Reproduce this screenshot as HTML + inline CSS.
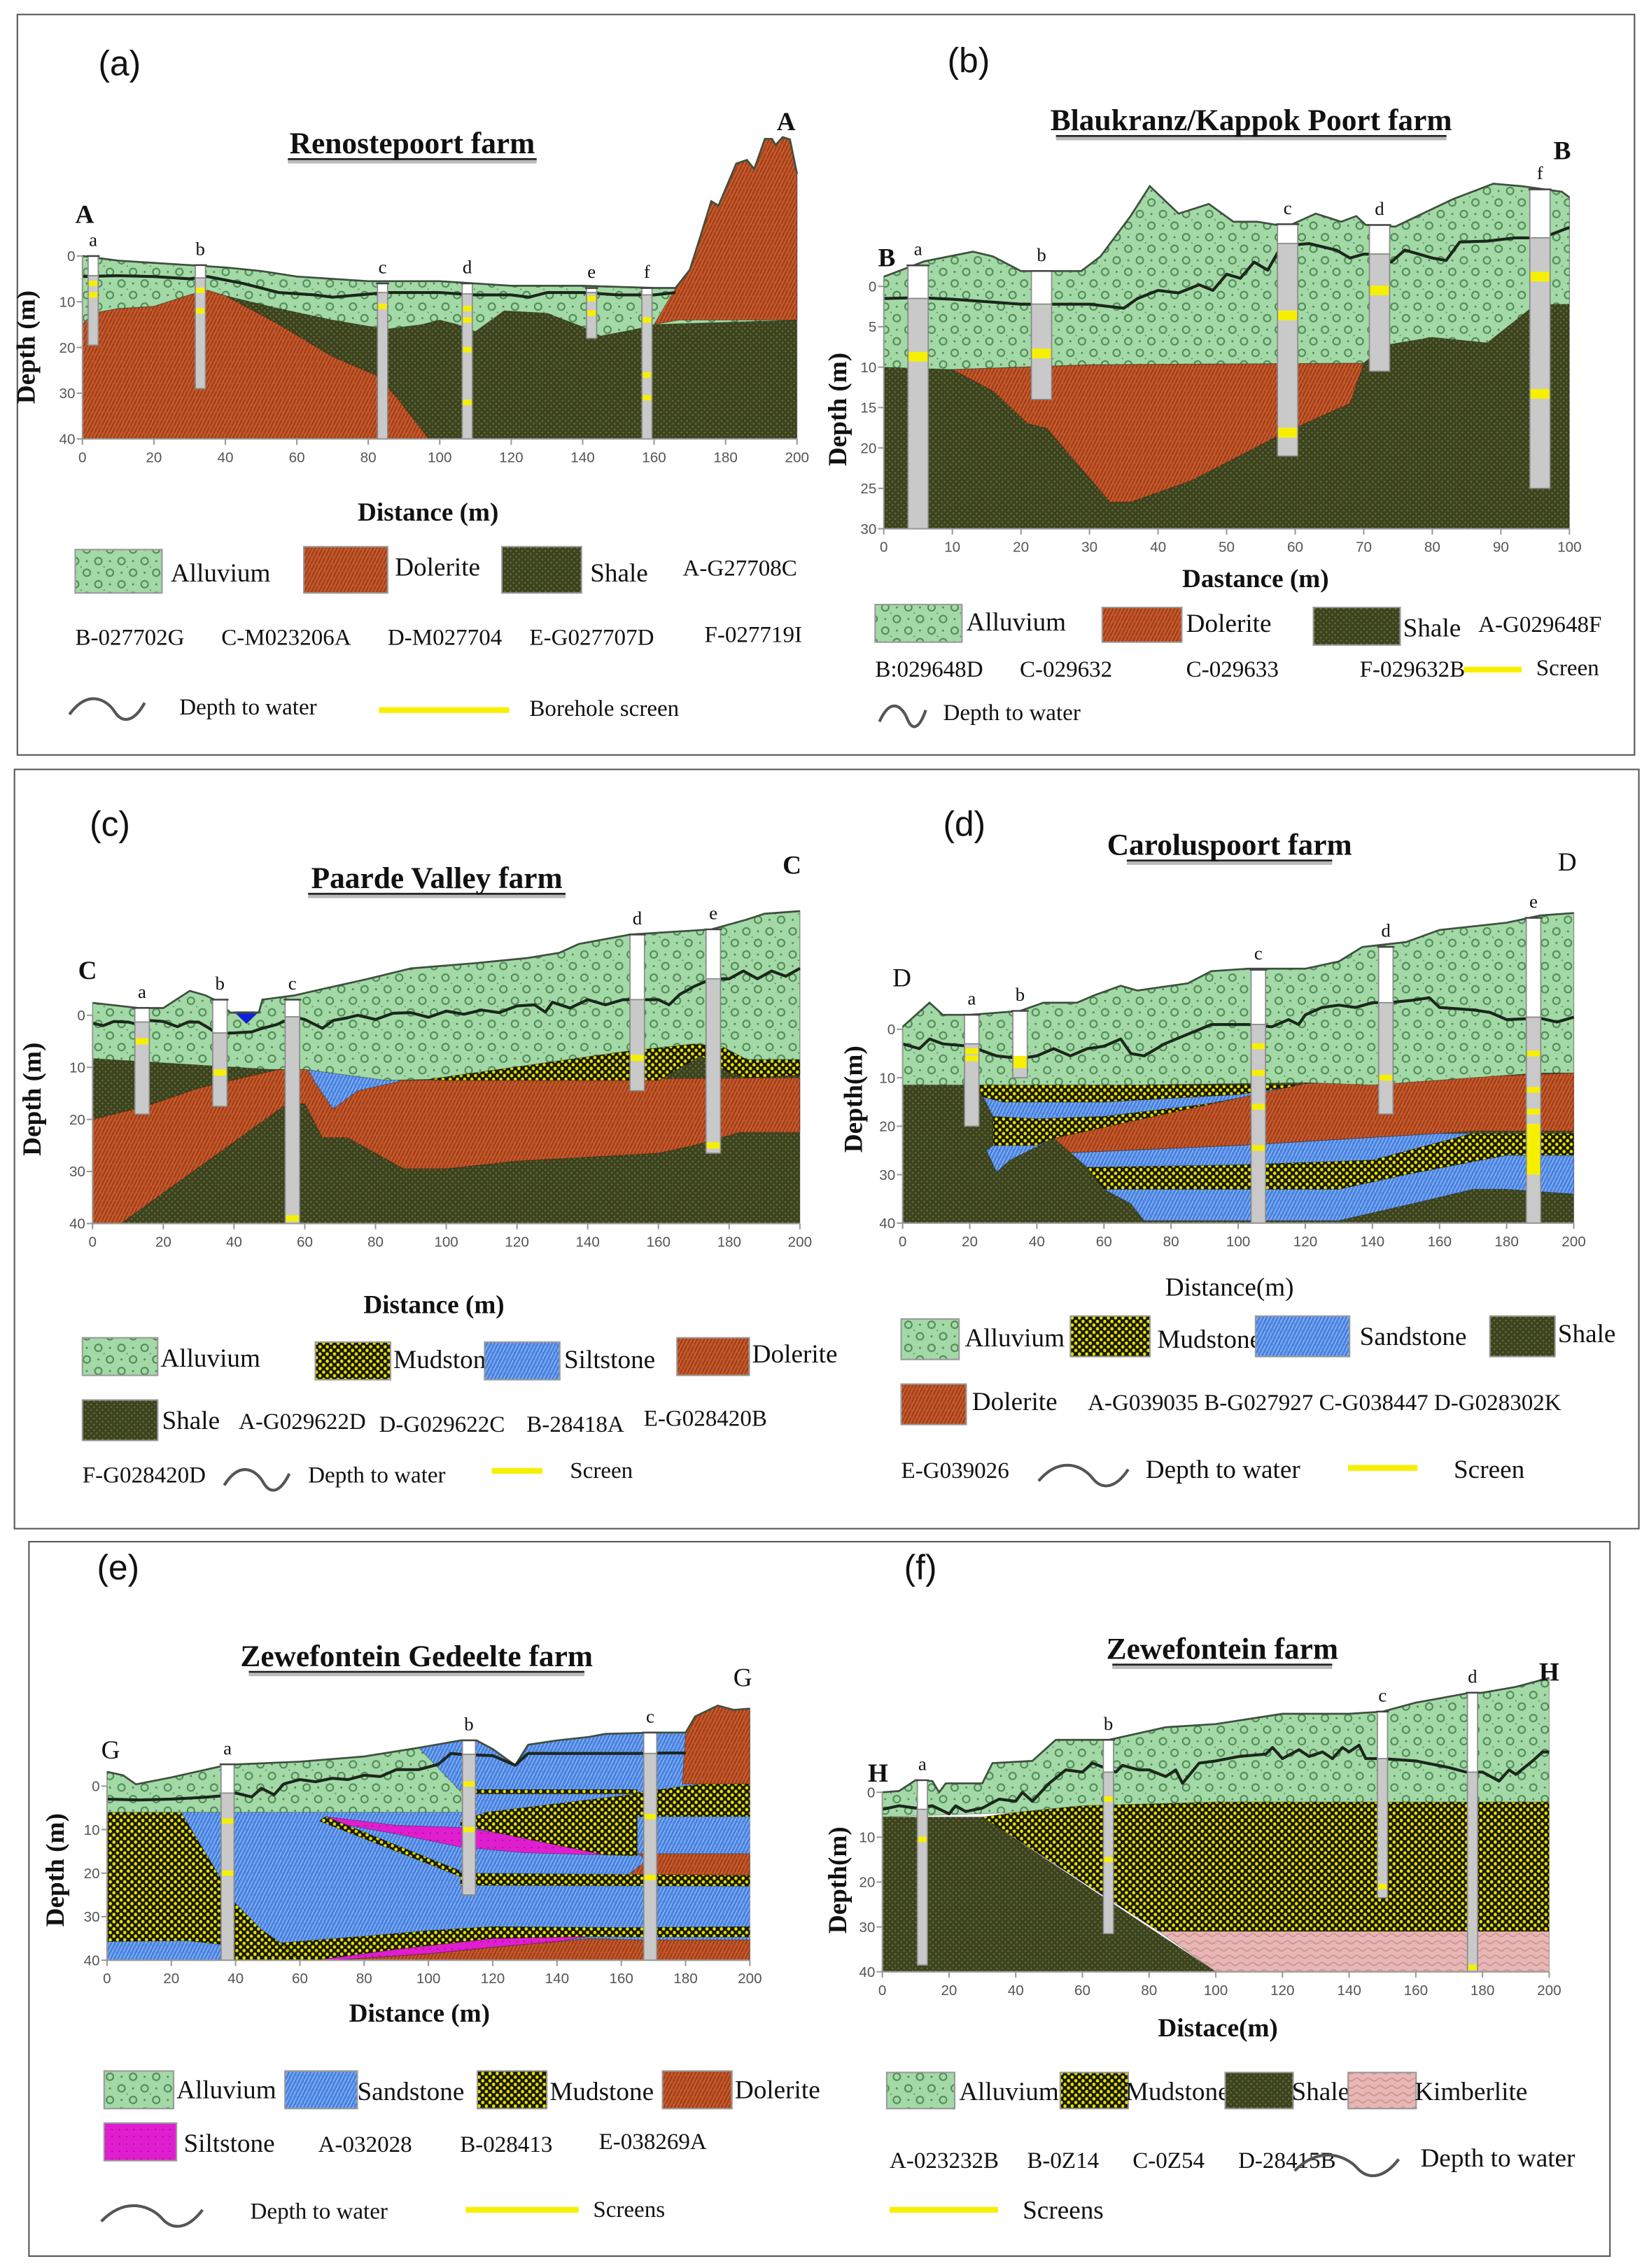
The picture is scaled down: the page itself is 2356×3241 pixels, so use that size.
<!DOCTYPE html>
<html><head><meta charset="utf-8"><style>
html,body{margin:0;padding:0;background:#fff;}
svg{display:block;}
text{font-family:"Liberation Serif",serif;fill:#111;}
.tk{font-family:"Liberation Sans",sans-serif;font-size:10px;fill:#555;}
.pl{font-family:"Liberation Sans",sans-serif;font-size:24px;}
.ttl{font-weight:bold;font-size:21px;}
.ax{font-weight:bold;font-size:18px;}
.lg{font-size:18px;}
.id{font-size:16px;}
</style></head><body>
<svg id="fig" xmlns="http://www.w3.org/2000/svg" width="2356" height="3241" viewBox="0 0 1140 1568.2">
<defs>
<pattern id="pAll" patternUnits="userSpaceOnUse" width="16" height="16"><rect width="16" height="16" fill="#a3d9a6"/><circle cx="4" cy="4" r="2.4" fill="none" stroke="#4f8a55" stroke-width="1"/><circle cx="12" cy="12" r="2.4" fill="none" stroke="#4f8a55" stroke-width="1"/><circle cx="12" cy="4" r="0.7" fill="#4f8a55"/><circle cx="4" cy="12" r="0.7" fill="#4f8a55"/><circle cx="8" cy="8" r="0.5" fill="#4f8a55"/></pattern>
<pattern id="pDol" patternUnits="userSpaceOnUse" width="5" height="5"><rect width="5" height="5" fill="#c85a2c"/><path d="M0,5 L2.5,0 M2.5,5 L5,0" stroke="#9a3c18" stroke-width="1"/></pattern>
<pattern id="pSha" patternUnits="userSpaceOnUse" width="4" height="4"><rect width="4" height="4" fill="#3b4320"/><circle cx="1" cy="1" r="0.6" fill="#6c7034"/><circle cx="3" cy="3" r="0.6" fill="#6c7034"/></pattern>
<pattern id="pMud" patternUnits="userSpaceOnUse" width="5" height="5"><rect width="5" height="5" fill="#1a1a00"/><ellipse cx="1.25" cy="1.25" rx="1.1" ry="1.2" fill="#e9e400"/><ellipse cx="3.75" cy="3.75" rx="1.1" ry="1.2" fill="#e9e400"/></pattern>
<pattern id="pSan" patternUnits="userSpaceOnUse" width="5" height="5"><rect width="5" height="5" fill="#4580e0"/><path d="M0,5 L2.5,0 M2.5,5 L5,0" stroke="#8cb4f2" stroke-width="0.8"/></pattern>
<pattern id="pMag" patternUnits="userSpaceOnUse" width="5" height="5"><rect width="5" height="5" fill="#e01ed0"/><circle cx="2.5" cy="2.5" r="0.6" fill="#b010a0"/></pattern>
<pattern id="pKim" patternUnits="userSpaceOnUse" width="8" height="5"><rect width="8" height="5" fill="#e8b6b4"/><path d="M0,3 Q2,1 4,3 T8,3" fill="none" stroke="#c99290" stroke-width="0.8"/></pattern>
</defs>
<rect x="12" y="10" width="1118" height="512" fill="none" stroke="#555" stroke-width="1"/>
<rect x="10" y="532" width="1123" height="525" fill="none" stroke="#555" stroke-width="1"/>
<rect x="20" y="1066" width="1093" height="494" fill="none" stroke="#555" stroke-width="1"/>
</svg>
<script>
// ---------------- DATA ([distance m, depth m]) ----------------
// Panel (a) Renostepoort
const aSurface=[[0,0],[10,1],[30,2],[40,2.5],[50,3.3],[60,4.5],[70,5],[80,5.5],[100,5.5],[110,6],[120,6.5],[140,6.5],[160,7],[166,7],[170,3],[173,-4.4],[176,-12],[178,-11],[183,-20.2],[186,-21],[188,-19],[191,-25.6],[193,-25.6],[194,-24.3],[196,-26],[198,-25.5],[200,-18]];
const aAlluviumBottom=[[0,15],[3,12.5],[10,11.5],[20,11],[30,8.5],[35,7.5],[40,8.7],[55,11.5],[70,14],[85,16],[95,15],[100,14],[105,15],[110,16.5],[118,12],[130,12.5],[140,15.5],[145,17.5],[155,16],[160,15],[200,14]];
const aDoleriteLeft=[[0,15],[3,12.5],[10,11.5],[20,11],[30,8.5],[35,7.5],[40,8.7],[55,15],[70,22],[82,26],[88,31],[97,40],[0,40]];
const aDoleriteRight=[[160,15],[166,7],[170,3],[173,-4.4],[176,-12],[178,-11],[183,-20.2],[186,-21],[188,-19],[191,-25.6],[193,-25.6],[194,-24.3],[196,-26],[198,-25.5],[200,-18],[200,14],[167,14]];
const aWater=[[0,4.5],[10,4.3],[20,4.5],[30,5],[35,4.5],[45,6],[55,8],[65,8.5],[70,9],[85,8],[100,8],[110,8.5],[120,8.5],[125,9],[130,8],[140,8],[150,8.5],[160,8.5],[166,8]];
const aBoreNames=['a','b','c','d','e','f'];
const aBoreX=[3,33,84,107.7,142.5,158];
const aBoreTop=[0,2,6,6,7,7];
const aBoreBottom=[19.5,29,40,40,18,40];
const aBoreWater=[4.3,4.8,8,8.3,8,8.5];
const aBoreScreens=[[6,8.5],[7.5,12],[11],[11.5,14,20.5,32],[9.3,12.5],[14,26,31]];
// Panel (b) Blaukranz
const bSurface=[[0,-1.2],[5.9,-3.1],[13,-4.3],[15.9,-3.7],[20,-1.9],[28.8,-1.9],[31.6,-3.7],[36,-8.7],[38.8,-12.4],[43,-9],[47.4,-10.2],[51,-8],[54.5,-8],[58.8,-7.4],[63,-9],[66.7,-8],[68.9,-8.7],[70.3,-7.6],[74.6,-7.4],[83,-10.8],[88.9,-12.7],[93,-12.4],[98.9,-11.7],[100,-11]];
const bAlluviumBottom=[[0,10],[10,10.3],[30,9.7],[70,9.5],[73,7.3],[80,6.3],[88,7],[95,2.3],[100,2.2]];
const bDolerite=[[10,10.3],[30,9.7],[70,9.5],[68,14.5],[65,15.6],[58,18.3],[45,24],[36,26.7],[33,26.7],[23.8,17.6],[21,17],[16,13]];
const bWater=[[0,1.5],[5,1.4],[10,1.6],[20,2.2],[30,2.2],[35,2.7],[37,1.5],[40,0.5],[43,0.8],[46,-0.2],[48,0.5],[50,-1.5],[52,-1],[54,-3],[56,-2],[58,-5],[62,-5.3],[66,-4.5],[68,-3.5],[70,-4],[72,-4],[74,-3],[76,-4.5],[80,-3.5],[82,-3.2],[84,-5.5],[88,-5.6],[92,-6],[96,-6],[100,-7.3]];
const bBoreNames=['a','b','c','d','f'];
const bBoreX=[5,23,58.9,72.3,95.7];
const bBoreTop=[-2.6,-1.9,-7.7,-7.6,-12];
const bBoreBottom=[30,14,21,10.5,25];
const bBoreWater=[1.5,2.2,-5.3,-4,-6];
const bBoreScreens=[[8.7],[8.3],[3.6,18.1],[0.5],[-1.2,13.3]];
// Panel (c) Paarde Valley
const cSurface=[[0,-2.4],[13,-1.4],[20,-1.4],[27.5,-4.7],[32,-3.8],[35,-2.8],[39,-0.5],[47,-0.5],[48,-3],[57,-3.8],[66,-5.2],[78,-7],[90,-9],[108,-10],[123,-11],[132,-12],[137.5,-13.7],[152,-15.5],[175,-16.5],[185,-18.4],[190,-19.5],[200,-20]];
const cAlluviumBottom=[[0,8.3],[50,10.4],[60,10.4],[83,12.5],[95,12.3],[150,7],[170,5.5],[178,6],[185,8.5],[200,8.5]];
const cDolerite=[[0,20],[15,17.5],[30,14],[52,10.5],[60,10.4],[83,12.5],[200,12],[200,22.5],[183,22.5],[170,25],[160,26.5],[120,28],[100,29.5],[88,29.5],[72,23.5],[65,23.5],[60,17],[55,17],[8,40],[0,40]];
const cMudstone=[[95,12.3],[150,7],[170,5.5],[178,6],[185,8.5],[200,8.5],[200,11.5],[185,12],[180,11],[172,7.8],[160,12.5],[100,12.5]];
const cSiltstone=[[61,10.5],[85,12],[87,12.7],[75,14.5],[68,18],[63,13]];
const cPond=[[40,-0.7],[47,-0.7],[43.5,1.6]];
const cWater=[[0,1.5],[3,2],[6,1.2],[10,1.3],[13,1.8],[16,1.0],[20,1.2],[24,2.2],[27,1.3],[30,1.3],[33,2.5],[35,3.5],[40,3.4],[45,3.2],[48,2.5],[52,1.8],[57,0.3],[60,0.8],[65,2.5],[68,1],[72,0.5],[75,0],[80,0.8],[85,-0.4],[90,-0.5],[95,0.4],[100,-0.8],[105,-0.2],[110,-1],[115,-0.5],[120,-1.8],[125,-2],[128,-0.6],[130,-2.5],[135,-1.4],[140,-3],[145,-2],[150,-3],[160,-3],[163,-2],[166,-4],[170,-5.5],[175,-7],[180,-7],[184,-8.5],[188,-7],[192,-8.5],[196,-7.5],[200,-9]];
const cBoreNames=['a','b','c','d','e'];
const cBoreX=[14,36,56.5,154,175.5];
const cBoreTop=[-1.4,-3,-3,-15.5,-16.5];
const cBoreBottom=[19,17.5,40,14.5,26.5];
const cBoreWater=[1.3,3.4,0.3,-3,-7];
const cBoreScreens=[[5],[11],[39],[8.2],[25]];
// Panel (d) Caroluspoort
const dSurface=[[0,-0.5],[8,-5.5],[12,-3],[20,-3],[35,-3.8],[42,-5.5],[52,-5.5],[57,-7],[65,-9],[70,-8],[85,-9.5],[92,-12],[103,-12.5],[120,-12.5],[130,-14],[137,-17],[150,-18],[160,-20.5],[180,-22],[190,-23.5],[200,-24]];
const dAlluviumBottom=[[0,11.5],[20,11.5],[70,11.5],[120,11],[140,11.5],[180,9.5],[190,9],[200,9]];
const dMud1=[[22,11.5],[115,11.5],[120,11.5],[100,13.5],[60,15],[30,15],[24,14]];
const dSand1=[[24,14],[30,15],[60,15],[100,13.5],[120,11.5],[110,13],[90,15.5],[60,18],[40,18.5],[27,18]];
const dMud2=[[27,18],[40,18.5],[60,18],[90,15.5],[110,13],[120,11.5],[45,22.5],[40,24],[27,24]];
const dSand2=[[27,24],[40,24],[45,22.5],[32,27],[28,29.5],[25,25]];
const dDolerite=[[45,22.5],[120,11.2],[200,9],[200,21],[170,21],[160,21.5],[100,24],[50,25.5]];
const dSand3=[[50,25.5],[100,24],[160,21.5],[170,21.5],[140,27],[100,28],[55,28.5]];
const dMud3=[[55,28.5],[100,28],[140,27],[170,21.5],[200,21.5],[200,26],[180,26],[150,30],[130,33],[60,33]];
const dSand4=[[60,33],[130,33],[150,30],[180,26],[200,26],[200,34],[180,33],[170,33],[155,35.5],[130,39.5],[72,39.5],[68,36]];
const dWater=[[0,3],[5,4],[8,2],[12,3],[20,3.5],[28,5.5],[35,6],[40,5.5],[45,4],[50,5.5],[55,4],[60,3.5],[65,2],[68,5],[72,5.5],[78,3],[85,1],[92,-1],[103,-1],[110,-0.5],[115,-2],[118,-1],[120,-3],[125,-4.5],[130,-5],[135,-4.5],[140,-5.5],[145,-5.5],[152,-6],[157,-6.5],[160,-4.5],[170,-4],[175,-3.5],[180,-2],[190,-2.3],[195,-1.5],[200,-2.5]];
const dBoreNames=['a','b','c','d','e'];
const dBoreX=[20.6,35,106,144,188];
const dBoreTop=[-3,-3.8,-12.3,-17,-23];
const dBoreBottom=[20,10,40,17.5,40];
const dBoreWater=[3,6,-1,-5.5,-2.5];
const dBoreScreens=[[4.5,6],[[5.5,8]],[3.5,9,16,24.5],[10],[5,12.5,17,[19.5,30]]];
// Panel (e) Zewefontein Gedeelte
const eSurface=[[0,-3.3],[5,-2.5],[9,-0.4],[20,-2],[35,-4.5],[40,-5],[60,-5.6],[80,-6.8],[97,-8.8],[110,-10.5],[115,-10.5],[120,-8.5],[127,-4.8],[131,-9.5],[140,-10.5],[150,-11.3],[155,-12],[170,-12.3],[180,-12.3],[183,-16],[190,-18.5],[195,-17.5],[200,-17.8]];
const eAlluvium=[[0,-3.3],[5,-2.5],[9,-0.4],[20,-2],[35,-4.5],[40,-5],[60,-5.6],[80,-6.8],[97,-8.8],[110.5,1.6],[110.5,6],[0,6]];
const eMudLeft=[[0,6],[23,6],[36,22],[40,27],[48,33],[54,36],[58,39],[60,40],[40,40],[37,36.5],[25,35.5],[0,35.7]];
const eMudBottom=[[54,36],[80,34.5],[100,33.2],[120,32.3],[160,32.5],[200,32.3],[200,34.7],[165,34.7],[150,34.6],[120,35],[90,37.5],[65,40],[60,40],[58,39]];
const eMagLower=[[65,40],[90,37.5],[120,35],[150,34.6],[140,35.7],[120,37],[100,38.5],[70,40]];
const eDolLower=[[70,40],[100,38.5],[120,37],[140,35.7],[150,35],[165,35.3],[200,35.3],[200,40]];
const eMagUpper=[[68,7],[90,9],[110,9.5],[120,10.5],[155,15.8],[130,15.3],[110,14],[90,11],[75,9]];
const eMudUpper=[[110,8],[118,6],[165,1.8],[165,16],[155,15.8],[120,10.5],[110,9]];
const eMudDiag=[[68,7],[110,19.5],[110,20.8],[66,8]];
const eMudTop=[[110,0.8],[165,0.8],[165,1.8],[110,1.8]];
const eMudRight=[[165,1.5],[185,-0.5],[200,-0.5],[200,7],[165,7]];
const eDolMid=[[165,15.5],[200,15.5],[200,20.5],[162,20.5],[168,17]];
const eMudBand=[[110,20],[200,20.5],[200,23],[110,22.8]];
const eDolHill=[[180,-12.3],[183,-16],[190,-18.5],[195,-17.5],[200,-17.8],[200,-0.5],[179,-0.5]];
const eWater=[[0,3],[10,3.2],[20,3],[30,2.6],[35,2.3],[40,1.6],[45,2.5],[48,0.5],[52,2],[55,-0.5],[60,-1.5],[65,-1],[70,-1.8],[75,-1.5],[80,-2.5],[85,-2.2],[90,-3.8],[97,-3.8],[103,-5],[107,-7.5],[110,-7.3],[120,-7],[127,-4.8],[131,-7.5],[140,-7.5],[150,-7.5],[165,-7.5],[175,-7.6],[180,-7.6]];
const eBoreNames=['a','b','c'];
const eBoreX=[37.5,112.6,169];
const eBoreTop=[-5,-10.5,-12.3];
const eBoreBottom=[40,25,40];
const eBoreWater=[1.6,-7.3,-7.5];
const eBoreScreens=[[8,20],[-0.5,10],[7,21]];
// Panel (f) Zewefontein
const fSurface=[[0,0],[5,-0.3],[10,-2.7],[15,-2.5],[17,0],[19,-2],[30,-2],[33,-6.5],[45,-7],[52,-11.7],[68,-11.7],[85,-14.5],[100,-15.2],[120,-17.5],[140,-17.5],[150,-18],[160,-20],[175,-22],[180,-22.2],[190,-23.5],[200,-25.5]];
const fAlluviumBottom=[[0,5.5],[20,5],[40,4.5],[60,3],[100,2.2],[200,2.2]];
const fMudstone=[[30,5.5],[40,4.5],[60,3],[100,2.2],[200,2.2],[200,31],[83,31]];
const fKimberlite=[[83,31],[200,31],[200,40],[100,40]];
const fShale=[[0,5.5],[30,5.5],[100,40],[0,40]];
const fWater=[[0,3.8],[5,3],[10,3.5],[15,3],[20,4.8],[22,3],[25,4.3],[30,3.5],[35,1.5],[40,2],[42,0],[45,2],[50,-2],[55,-5],[60,-4.5],[63,-6.5],[70,-4.5],[72,-6],[77,-5],[80,-5],[85,-3.5],[88,-5],[90,-2],[95,-6.5],[100,-7],[107,-8],[115,-8.5],[117,-10],[120,-7.5],[125,-9.5],[128,-8],[132,-9],[135,-7.5],[138,-10],[140,-9],[143,-10.5],[145,-7.5],[150,-7.5],[160,-7],[170,-5.5],[175,-4.5],[180,-4.5],[185,-2.5],[188,-5],[190,-4],[195,-7],[198,-9],[200,-9]];
const fBoreNames=['a','b','c','d'];
const fBoreX=[12,67.8,150,177];
const fBoreTop=[-2.7,-11.7,-18,-22.2];
const fBoreBottom=[38.5,31.5,23.5,40];
const fBoreWater=[3.8,-4.5,-7.5,-4.5];
const fBoreScreens=[[10.5],[1.5,15],[21],[39]];

// ---------------- DRAWING ----------------
const NS='http://www.w3.org/2000/svg';
const svg=document.getElementById('fig');
function mk(tag,attrs,parent){const e=document.createElementNS(NS,tag);for(const k in attrs)e.setAttribute(k,attrs[k]);(parent||svg).appendChild(e);return e;}
function setup(p){p.sx=v=>p.x0+v/p.xmax*(p.x1-p.x0);p.sy=d=>p.y0+d/p.ymax*(p.y1-p.y0);}
function ptsStr(p,pts){return pts.map(q=>p.sx(q[0]).toFixed(1)+','+p.sy(q[1]).toFixed(1)).join(' ');}
function layer(p,g,pts,fill,name){
  const e=mk('polygon',{points:ptsStr(p,pts),fill:fill,stroke:'rgba(20,20,20,0.35)','stroke-width':0.5},g);
  
  
}
function base(p,surf){return surf.concat([[p.xmax,p.ymax],[0,p.ymax]]);}
function band(top,bot){return top.concat(bot.slice().reverse());}
function axes(p,xstep,ystep,key){
  const g=mk('g',{});
  
  
  const ya=mk('line',{x1:p.x0,y1:p.sy(0),x2:p.x0,y2:p.y1,stroke:'#999','stroke-width':1},g);
  
  
  const xa=mk('line',{x1:p.x0,y1:p.y1,x2:p.x1,y2:p.y1,stroke:'#999','stroke-width':1},g);
  
  
  for(let v=0;v<=p.ymax+0.01;v+=ystep){
    const y=p.sy(v);
    mk('line',{x1:p.x0-4,y1:y,x2:p.x0,y2:y,stroke:'#999'},g);
    const t=mk('text',{x:p.x0-5,y:y+3.5,'text-anchor':'end',class:'tk'},g);t.textContent=v;
    
    
  }
  for(let v=0;v<=p.xmax+0.01;v+=xstep){
    const x=p.sx(v);
    mk('line',{x1:x,y1:p.y1,x2:x,y2:p.y1+4,stroke:'#999'},g);
    const t=mk('text',{x:x,y:p.y1+16,'text-anchor':'middle',class:'tk'},g);t.textContent=v;
    
    
  }
}
function outline(p,g,surf){
  const e=mk('polyline',{points:ptsStr(p,surf),fill:'none',stroke:'#3f4f3f','stroke-width':1.3},g);
  
  
}
function water(p,g,pts){
  const e=mk('polyline',{points:ptsStr(p,pts),fill:'none',stroke:'#1c261c','stroke-width':2,'stroke-linejoin':'round'},g);
  
  
}
function bores(p,g,names,xs,tops,bots,wat,scr,w,lblSize){
  names.forEach((n,i)=>{
    const bg=mk('g',{},g);
    
    
    const x=p.sx(xs[i])-w/2;
    const yt=p.sy(tops[i]),yw=Math.max(p.sy(wat[i]),yt),yb=p.sy(bots[i]);
    mk('rect',{x:x,y:yt,width:w,height:yw-yt,fill:'#fff',stroke:'#888','stroke-width':0.8},bg);
    mk('rect',{x:x,y:yw,width:w,height:yb-yw,fill:'#c9c9c9',stroke:'#888','stroke-width':0.8},bg);
    mk('line',{x1:x-1,y1:yt,x2:x+w+1,y2:yt,stroke:'#444','stroke-width':1.2},bg);
    scr[i].forEach(s=>{
      let a,b; if(Array.isArray(s)){a=s[0];b=s[1];}else{a=s-0.6;b=s+0.6;}
      const r=mk('rect',{x:x+0.5,y:p.sy(a),width:w-1,height:Math.max(p.sy(b)-p.sy(a),3),fill:'#f6f000'},bg);
      
      
    });
    const t=mk('text',{x:p.sx(xs[i]),y:yt-7,'text-anchor':'middle','font-size':lblSize},bg);t.textContent=n;
    
    
  });
}
function txt(x,y,s,cls,extra,name){
  const t=mk('text',Object.assign({x:x,y:y,class:cls},extra||{}));t.textContent=s;
  
  
  return t;
}
function title(cx,y,s,w,size,name){
  mk('rect',{x:cx-w/2,y:y+4,width:w,height:3,fill:'#bbb'});
  mk('line',{x1:cx-w/2,y1:y+4,x2:cx+w/2,y2:y+4,stroke:'#222','stroke-width':1.3});
  txt(cx,y,s,'ttl',{'text-anchor':'middle','font-size':size},name);
}
function ylab(x,y,s,size){txt(x,y,s,'ax',{'text-anchor':'middle','font-size':size,transform:'rotate(-90 '+x+' '+y+')'},'y-axis-title');}
function sw(x,y,w,h,fill,name){const r=mk('rect',{x:x,y:y,width:w,height:h,fill:fill,stroke:'#999','stroke-width':1});}
function wave(x,y,w,name){const e=mk('path',{d:'M'+x+','+(y+4)+' C'+(x+w*0.25)+','+(y-14)+' '+(x+w*0.5)+','+(y-6)+' '+(x+w*0.6)+','+(y+2)+' S'+(x+w*0.85)+','+(y+10)+' '+(x+w)+','+(y-4),fill:'none',stroke:'#555','stroke-width':2});}
function yline(x1,x2,y,name){const e=mk('line',{x1:x1,y1:y,x2:x2,y2:y,stroke:'#f6f000','stroke-width':4});}
function group(name){const g=mk('g',{});return g;}

// ---- Panel a ----
const pa={x0:57,x1:551,y0:177,y1:303.5,xmax:200,ymax:40};setup(pa);
let g=group('panel-a-section');
layer(pa,g,base(pa,aSurface),'url(#pSha)','shale');
layer(pa,g,band(aSurface,aAlluviumBottom.slice().reverse()).slice(0,aSurface.length).concat(aAlluviumBottom.slice().reverse()),'url(#pAll)','alluvium');
layer(pa,g,aDoleriteLeft,'url(#pDol)','dolerite-left');
layer(pa,g,aDoleriteRight,'url(#pDol)','dolerite-hill');
outline(pa,g,aSurface);water(pa,g,aWater);
bores(pa,g,aBoreNames,aBoreX,aBoreTop,aBoreBottom,aBoreWater,aBoreScreens,7,13);
axes(pa,20,10,'panel-a');
txt(68,52,'(a)','pl',{},'panel-a-label');
title(285,106,'Renostepoort farm',172,21,'panel-a-title');
txt(52,154,'A','ax',{'font-size':15},'section-start-A');
txt(537,90,'A','ax',{'font-size':15},'section-end-A');
ylab(24,240,'Depth (m)',18);
txt(296,360,'Distance (m)','ax',{'text-anchor':'middle','font-size':19},'x-axis-title');
sw(52,380,60,30,'url(#pAll)','legend-alluvium-swatch');txt(118,402,'Alluvium','lg',{},'legend-alluvium');
sw(210,378,58,32,'url(#pDol)','legend-dolerite-swatch');txt(273,398,'Dolerite','lg',{},'legend-dolerite');
sw(347,378,55,32,'url(#pSha)','legend-shale-swatch');txt(408,402,'Shale','lg',{},'legend-shale');
txt(472,398,'A-G27708C','id',{},'legend-borehole-id');
txt(52,446,'B-027702G','id',{},'legend-borehole-id');txt(153,446,'C-M023206A','id',{},'legend-borehole-id');
txt(268,446,'D-M027704','id',{},'legend-borehole-id');txt(366,446,'E-G027707D','id',{},'legend-borehole-id');
txt(487,444,'F-027719I','id',{},'legend-borehole-id');
wave(48,490,52,'legend-water-icon');txt(124,494,'Depth to water','id',{},'legend-depth-to-water');
yline(262,352,491,'legend-screen-line');txt(366,495,'Borehole screen','id',{},'legend-borehole-screen');

// ---- Panel b ----
const pb={x0:611,x1:1085,y0:198,y1:365.6,xmax:100,ymax:30};setup(pb);
g=group('panel-b-section');
layer(pb,g,base(pb,bSurface),'url(#pSha)','shale');
layer(pb,g,bSurface.concat(bAlluviumBottom.slice().reverse()),'url(#pAll)','alluvium');
layer(pb,g,bDolerite,'url(#pDol)','dolerite');
outline(pb,g,bSurface);water(pb,g,bWater);
bores(pb,g,bBoreNames,bBoreX,bBoreTop,bBoreBottom,bBoreWater,bBoreScreens,14,13);
axes(pb,10,5,'panel-b');
txt(655,50,'(b)','pl',{},'panel-b-label');
title(865,90,'Blaukranz/Kappok Poort farm',270,19,'panel-b-title');
txt(607,184,'B','ax',{'font-size':17},'section-start-B');
txt(1074,110,'B','ax',{'font-size':17},'section-end-B');
ylab(585,283,'Depth  (m)',16);
txt(868,406,'Dastance (m)','ax',{'text-anchor':'middle','font-size':16},'x-axis-title');
sw(605,418,60,26,'url(#pAll)','legend-alluvium-swatch');txt(668,436,'Alluvium','lg',{},'legend-alluvium');
sw(762,420,55,24,'url(#pDol)','legend-dolerite-swatch');txt(820,437,'Dolerite','lg',{},'legend-dolerite');
sw(908,420,60,26,'url(#pSha)','legend-shale-swatch');txt(970,440,'Shale','lg',{},'legend-shale');
txt(1022,437,'A-G029648F','id',{},'legend-borehole-id');
txt(605,468,'B:029648D','id',{},'legend-borehole-id');txt(705,468,'C-029632','id',{},'legend-borehole-id');
txt(820,468,'C-029633','id',{},'legend-borehole-id');txt(940,468,'F-029632B','id',{},'legend-borehole-id');
yline(1012,1052,463,'legend-screen-line');txt(1062,467,'Screen','id',{},'legend-screen');
wave(608,495,32,'legend-water-icon');txt(652,498,'Depth to water','id',{},'legend-depth-to-water');

// ---- Panel c ----
const pc={x0:64,x1:553,y0:702,y1:846,xmax:200,ymax:40};setup(pc);
g=group('panel-c-section');
layer(pc,g,base(pc,cSurface),'url(#pSha)','shale');
layer(pc,g,cDolerite,'url(#pDol)','dolerite');
layer(pc,g,cMudstone,'url(#pMud)','mudstone');
layer(pc,g,cSiltstone,'url(#pSan)','siltstone');
layer(pc,g,cSurface.concat(cAlluviumBottom.slice().reverse()),'url(#pAll)','alluvium');
layer(pc,g,cPond,'#1020e0','pond');
outline(pc,g,cSurface);water(pc,g,cWater);
bores(pc,g,cBoreNames,cBoreX,cBoreTop,cBoreBottom,cBoreWater,cBoreScreens,10,13);
axes(pc,20,10,'panel-c');
txt(62,578,'(c)','pl',{},'panel-c-label');
title(302,614,'Paarde Valley farm',178,23,'panel-c-title');
txt(54,677,'C','ax',{'font-size':19},'section-start-C');
txt(541,604,'C','ax',{'font-size':23},'section-end-C');
ylab(28,760,'Depth (m)',18);
txt(300,908,'Distance (m)','ax',{'text-anchor':'middle','font-size':19},'x-axis-title');
sw(57,925,52,26,'url(#pAll)','legend-alluvium-swatch');txt(111,945,'Alluvium','lg',{},'legend-alluvium');
sw(218,928,52,26,'url(#pMud)','legend-mudstone-swatch');txt(272,946,'Mudstone','lg',{},'legend-mudstone');
sw(335,928,52,26,'url(#pSan)','legend-siltstone-swatch');txt(390,946,'Siltstone','lg',{},'legend-siltstone');
sw(468,925,50,26,'url(#pDol)','legend-dolerite-swatch');txt(520,942,'Dolerite','lg',{},'legend-dolerite');
sw(57,968,52,28,'url(#pSha)','legend-shale-swatch');txt(112,988,'Shale','lg',{},'legend-shale');
txt(165,988,'A-G029622D','id',{},'legend-borehole-id');txt(262,990,'D-G029622C','id',{},'legend-borehole-id');
txt(364,990,'B-28418A','id',{},'legend-borehole-id');txt(445,986,'E-G028420B','id',{},'legend-borehole-id');
txt(57,1025,'F-G028420D','id',{'font-size':13},'legend-borehole-id');
wave(155,1023,45,'legend-water-icon');txt(213,1025,'Depth to water','id',{},'legend-depth-to-water');
yline(340,375,1017,'legend-screen-line');txt(394,1022,'Screen','id',{},'legend-screen');

// ---- Panel d ----
const pd={x0:624,x1:1088,y0:711.7,y1:845.7,xmax:200,ymax:40};setup(pd);
g=group('panel-d-section');
layer(pd,g,base(pd,dSurface),'url(#pSha)','shale');
layer(pd,g,dMud1,'url(#pMud)','mudstone-1');
layer(pd,g,dSand1,'url(#pSan)','sandstone-1');
layer(pd,g,dMud2,'url(#pMud)','mudstone-2');
layer(pd,g,dSand2,'url(#pSan)','sandstone-2');
layer(pd,g,dDolerite,'url(#pDol)','dolerite');
layer(pd,g,dSand3,'url(#pSan)','sandstone-3');
layer(pd,g,dMud3,'url(#pMud)','mudstone-3');
layer(pd,g,dSand4,'url(#pSan)','sandstone-4');
layer(pd,g,dSurface.concat(dAlluviumBottom.slice().reverse()),'url(#pAll)','alluvium');
outline(pd,g,dSurface);water(pd,g,dWater);
bores(pd,g,dBoreNames,dBoreX,dBoreTop,dBoreBottom,dBoreWater,dBoreScreens,10,13);
axes(pd,20,10,'panel-d');
txt(652,578,'(d)','pl',{},'panel-d-label');
title(850,591,'Caroluspoort farm',142,18,'panel-d-title');
txt(617,682,'D','lg',{'font-size':18},'section-start-D');
txt(1077,602,'D','lg',{'font-size':18},'section-end-D');
ylab(596,760,'Depth(m)',16);
txt(850,896,'Distance(m)','lg',{'text-anchor':'middle','font-size':15},'x-axis-title');
sw(623,912,40,28,'url(#pAll)','legend-alluvium-swatch');txt(667,931,'Alluvium','lg',{},'legend-alluvium');
sw(740,910,55,28,'url(#pMud)','legend-mudstone-swatch');txt(800,932,'Mudstone','lg',{},'legend-mudstone');
sw(868,910,65,28,'url(#pSan)','legend-sandstone-swatch');txt(940,930,'Sandstone','lg',{},'legend-sandstone');
sw(1030,910,45,28,'url(#pSha)','legend-shale-swatch');txt(1077,928,'Shale','lg',{},'legend-shale');
sw(623,957,45,28,'url(#pDol)','legend-dolerite-swatch');txt(672,975,'Dolerite','lg',{},'legend-dolerite');
txt(752,975,'A-G039035 B-G027927 C-G038447 D-G028302K','id',{},'legend-borehole-ids');
txt(623,1022,'E-G039026','id',{},'legend-borehole-id');
wave(718,1020,62,'legend-water-icon');txt(792,1022,'Depth to water','lg',{},'legend-depth-to-water');
yline(932,980,1015,'legend-screen-line');txt(1005,1022,'Screen','lg',{},'legend-screen');

// ---- Panel e ----
const pe={x0:74,x1:518.4,y0:1235,y1:1355.4,xmax:200,ymax:40};setup(pe);
g=group('panel-e-section');
layer(pe,g,base(pe,eSurface),'url(#pSan)','sandstone');
layer(pe,g,eMudLeft,'url(#pMud)','mudstone-left');
layer(pe,g,eMudBottom,'url(#pMud)','mudstone-lower-band');
layer(pe,g,eDolLower,'url(#pDol)','dolerite-lower');
layer(pe,g,eMagLower,'url(#pMag)','siltstone-lower');
layer(pe,g,eMudDiag,'url(#pMud)','mudstone-thin-diagonal');
layer(pe,g,eMagUpper,'url(#pMag)','siltstone-upper');
layer(pe,g,eMudUpper,'url(#pMud)','mudstone-upper');
layer(pe,g,eMudTop,'url(#pMud)','mudstone-thin-top');
layer(pe,g,eMudRight,'url(#pMud)','mudstone-right');
layer(pe,g,eDolMid,'url(#pDol)','dolerite-middle');
layer(pe,g,eMudBand,'url(#pMud)','mudstone-band');
layer(pe,g,eDolHill,'url(#pDol)','dolerite-hill');
layer(pe,g,eAlluvium,'url(#pAll)','alluvium');
outline(pe,g,eSurface);water(pe,g,eWater);
bores(pe,g,eBoreNames,eBoreX,eBoreTop,eBoreBottom,eBoreWater,eBoreScreens,9,13);
axes(pe,20,10,'panel-e');
txt(67,1092,'(e)','pl',{},'panel-e-label');
title(288,1152,'Zewefontein Gedeelte farm',232,20,'panel-e-title');
txt(70,1216,'G','lg',{'font-size':11},'section-start-G');
txt(507,1166,'G','lg',{'font-size':11},'section-end-G');
ylab(44,1293,'Depth (m)',16);
txt(290,1398,'Distance (m)','ax',{'text-anchor':'middle','font-size':16},'x-axis-title');
sw(72,1432,48,26,'url(#pAll)','legend-alluvium-swatch');txt(122,1451,'Alluvium','lg',{},'legend-alluvium');
sw(197,1432,50,26,'url(#pSan)','legend-sandstone-swatch');txt(247,1452,'Sandstone','lg',{},'legend-sandstone');
sw(330,1432,48,26,'url(#pMud)','legend-mudstone-swatch');txt(380,1452,'Mudstone','lg',{},'legend-mudstone');
sw(458,1432,48,26,'url(#pDol)','legend-dolerite-swatch');txt(508,1451,'Dolerite','lg',{},'legend-dolerite');
sw(72,1468,50,26,'url(#pMag)','legend-siltstone-swatch');txt(127,1488,'Siltstone','lg',{},'legend-siltstone');
txt(220,1488,'A-032028','id',{},'legend-borehole-id');txt(318,1488,'B-028413','id',{},'legend-borehole-id');
txt(414,1486,'E-038269A','id',{},'legend-borehole-id');
wave(70,1532,70,'legend-water-icon');txt(173,1534,'Depth to water','id',{},'legend-depth-to-water');
yline(322,400,1528,'legend-screen-line');txt(410,1533,'Screens','id',{},'legend-screens');

// ---- Panel f ----
const pf={x0:610,x1:1071,y0:1239.3,y1:1363.4,xmax:200,ymax:40};setup(pf);
g=group('panel-f-section');
layer(pf,g,fSurface.concat(fAlluviumBottom.slice().reverse()),'url(#pAll)','alluvium');
layer(pf,g,fMudstone.concat([[200,40],[0,40],[0,5.5]]).slice(0,fMudstone.length),'url(#pMud)','mudstone');
layer(pf,g,fKimberlite,'url(#pKim)','kimberlite');
layer(pf,g,fShale,'url(#pSha)','shale');
outline(pf,g,fSurface);water(pf,g,fWater);
bores(pf,g,fBoreNames,fBoreX,fBoreTop,fBoreBottom,fBoreWater,fBoreScreens,7,13);
axes(pf,20,10,'panel-f');
txt(625,1092,'(f)','pl',{},'panel-f-label');
title(845,1147,'Zewefontein farm',152,20,'panel-f-title');
txt(600,1232,'H','ax',{'font-size':15},'section-start-H');
txt(1064,1162,'H','ax',{'font-size':15},'section-end-H');
ylab(585,1300,'Depth(m)',16);
txt(842,1408,'Distace(m)','ax',{'text-anchor':'middle','font-size':16},'x-axis-title');
sw(613,1433,47,25,'url(#pAll)','legend-alluvium-swatch');txt(663,1452,'Alluvium','lg',{},'legend-alluvium');
sw(733,1433,47,25,'url(#pMud)','legend-mudstone-swatch');txt(778,1452,'Mudstone','lg',{},'legend-mudstone');
sw(847,1433,47,25,'url(#pSha)','legend-shale-swatch');txt(893,1452,'Shale','lg',{},'legend-shale');
sw(932,1433,47,25,'url(#pKim)','legend-kimberlite-swatch');txt(978,1452,'Kimberlite','lg',{},'legend-kimberlite');
txt(615,1499,'A-023232B','id',{},'legend-borehole-id');txt(710,1499,'B-0Z14','id',{},'legend-borehole-id');
txt(783,1499,'C-0Z54','id',{},'legend-borehole-id');txt(856,1499,'D-28415B','id',{},'legend-borehole-id');
wave(895,1497,72,'legend-water-icon');txt(982,1498,'Depth to water','lg',{},'legend-depth-to-water');
yline(615,690,1528,'legend-screen-line');txt(707,1534,'Screens','lg',{},'legend-screens');
</script>
</body></html>
